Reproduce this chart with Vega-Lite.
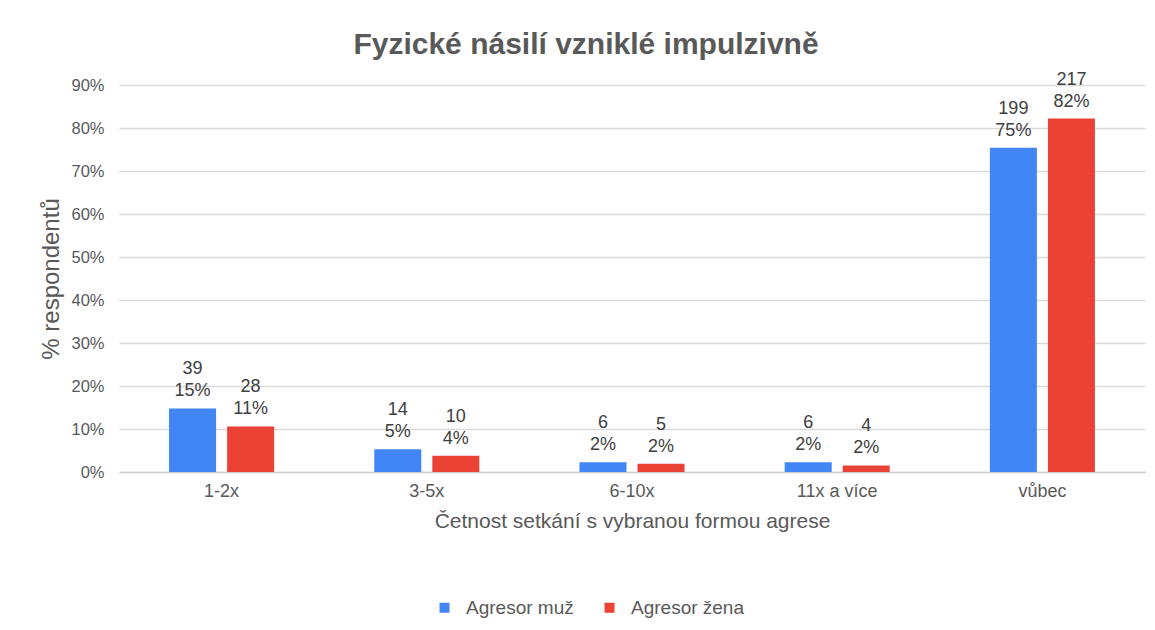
{
  "$schema": "https://vega.github.io/schema/vega-lite/v6.json",
  "autosize": {"type": "none"},
  "width": 1026,
  "height": 387,
  "padding": {"left": 119, "top": 85, "right": 10, "bottom": 158},
  "background": "white",
  "title": {
    "text": "Fyzické násilí vzniklé impulzivně",
    "font": "Liberation Sans",
    "fontSize": 30,
    "fontWeight": "bold",
    "color": "#595959",
    "anchor": "middle",
    "offset": 11,
    "dx": -46
  },
  "data": {
    "values": [
      {"kategorie": "1-2x", "serie": "Agresor muž", "pocet": 39, "podil": 0.1477, "popisek": "39\n15%"},
      {"kategorie": "1-2x", "serie": "Agresor žena", "pocet": 28, "podil": 0.1061, "popisek": "28\n11%"},
      {"kategorie": "3-5x", "serie": "Agresor muž", "pocet": 14, "podil": 0.0530, "popisek": "14\n5%"},
      {"kategorie": "3-5x", "serie": "Agresor žena", "pocet": 10, "podil": 0.0379, "popisek": "10\n4%"},
      {"kategorie": "6-10x", "serie": "Agresor muž", "pocet": 6, "podil": 0.0227, "popisek": "6\n2%"},
      {"kategorie": "6-10x", "serie": "Agresor žena", "pocet": 5, "podil": 0.0189, "popisek": "5\n2%"},
      {"kategorie": "11x a více", "serie": "Agresor muž", "pocet": 6, "podil": 0.0227, "popisek": "6\n2%"},
      {"kategorie": "11x a více", "serie": "Agresor žena", "pocet": 4, "podil": 0.0152, "popisek": "4\n2%"},
      {"kategorie": "vůbec", "serie": "Agresor muž", "pocet": 199, "podil": 0.7538, "popisek": "199\n75%"},
      {"kategorie": "vůbec", "serie": "Agresor žena", "pocet": 217, "podil": 0.8220, "popisek": "217\n82%"}
    ]
  },
  "encoding": {
    "x": {
      "field": "kategorie",
      "type": "nominal",
      "sort": ["1-2x", "3-5x", "6-10x", "11x a více", "vůbec"],
      "scale": {"paddingInner": 0.488, "paddingOuter": 0.244},
      "axis": {
        "title": "Četnost setkání s vybranou formou agrese",
        "labelAngle": 0,
        "labelFont": "Liberation Sans",
        "labelFontSize": 18,
        "labelColor": "#595959",
        "labelPadding": 10,
        "titleFont": "Liberation Sans",
        "titleFontSize": 21,
        "titleFontWeight": "normal",
        "titleColor": "#595959",
        "titlePadding": 10,
        "ticks": false,
        "domainColor": "#d0d0d0",
        "domainWidth": 1.5,
        "grid": false
      }
    },
    "xOffset": {
      "field": "serie",
      "type": "nominal",
      "scale": {"paddingInner": 0.19, "paddingOuter": 0}
    },
    "y": {
      "field": "podil",
      "type": "quantitative",
      "scale": {"domain": [0, 0.9], "nice": false},
      "axis": {
        "title": "% respondentů",
        "format": ".0%",
        "values": [0, 0.1, 0.2, 0.3, 0.4, 0.5, 0.6, 0.7, 0.8, 0.9],
        "labelFont": "Liberation Sans",
        "labelFontSize": 16.5,
        "labelColor": "#595959",
        "labelPadding": 15,
        "titleFont": "Liberation Sans",
        "titleFontSize": 24,
        "titleFontWeight": "normal",
        "titleColor": "#595959",
        "titlePadding": 7,
        "ticks": false,
        "domain": false,
        "gridColor": "#d9d9d9",
        "gridWidth": 1.5
      }
    },
    "color": {
      "field": "serie",
      "type": "nominal",
      "scale": {"domain": ["Agresor muž", "Agresor žena"], "range": ["#4285F4", "#EA4335"]},
      "legend": {
        "title": null,
        "orient": "none",
        "direction": "horizontal",
        "legendX": 316,
        "legendY": 513,
        "symbolType": "square",
        "symbolSize": 100,
        "symbolStrokeWidth": 0,
        "labelFont": "Liberation Sans",
        "labelFontSize": 19,
        "labelColor": "#595959",
        "labelOffset": 12,
        "columnPadding": 26
      }
    }
  },
  "layer": [
    {"mark": {"type": "bar"}},
    {
      "mark": {
        "type": "text",
        "baseline": "alphabetic",
        "dy": -34,
        "font": "Liberation Sans",
        "fontSize": 18,
        "lineHeight": 22,
        "lineBreak": "\n",
        "color": "#404040"
      },
      "encoding": {
        "text": {"field": "popisek", "type": "nominal"},
        "color": {"value": "#404040"}
      }
    }
  ],
  "config": {"view": {"stroke": null}}
}
